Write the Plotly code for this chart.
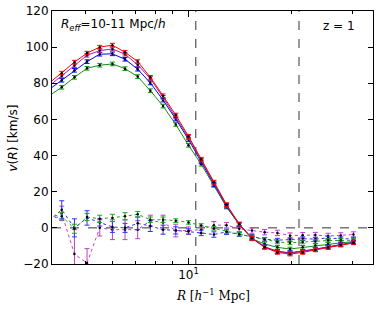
import plotly.graph_objects as go

R = [3.92, 4.27, 4.65, 5.06, 5.51, 6.00, 6.53, 7.11, 7.74, 8.43, 9.18, 10.0, 10.89,
     11.86, 12.91, 14.06, 15.31, 16.67, 18.16, 19.77, 21.53, 23.44, 25.53, 27.80, 30.27]

red_v = [80, 85.6, 91.7, 96.7, 100, 101.1, 97.2, 92, 83.3, 73.1, 62.4, 50.7, 38, 25.3,
         12.9, 2.2, -5.8, -10.8, -13.6, -14.5, -13.6, -12.2, -10.9, -9.5, -8.3]
purple_v = [78.5, 84, 89.8, 95.5, 98.1, 99, 96.1, 90.2, 82.6, 72.2, 61.4, 50, 37.4, 24.8,
            12.5, 2, -5.6, -10.6, -13.2, -14, -13.2, -12, -10.8, -9.4, -8.2]
blue_v = [76.5, 81.7, 87.2, 92, 96.1, 96.3, 93.3, 87.8, 80.2, 70.7, 60.2, 48.9, 36.5, 24,
          12, 1.8, -5.6, -10.5, -13, -13.8, -13, -11.8, -10.5, -9.2, -8]
green_v = [73, 77.8, 83.3, 88.3, 90, 90.7, 88.1, 83.7, 75.9, 67.4, 57.2, 45.7, 35.2, 23.5,
           11.5, 1.8, -6.1, -8.9, -10.8, -11.7, -10.8, -9.8, -8.9, -8.3, -7.6]

mag_d = [5, 8, -14.5, -19.5, 0, -1, -1, -1, 4, 3, -1.5, -1.5, -1, 1.5, 1.5, -0.5, -1.5,
         -2.4, -2.8, -4.3, -4.1, -4, -4.5, -4.2, -3.7]
blue_d = [4, 10, 0, 5.5, 3, 0.5, 0, 2.5, 1, -1, -1.4, -2, -2.8, -3.7, -2.2, -3.7, -4.7,
          -6.3, -6.8, -6.5, -6, -6.2, -5.6, -6, -6.1]
green_d = [5, 6.4, -0.5, 6, 5, 5.5, 6.4, 7.5, 4.5, 4.5, 4, 3, 1.3, -0.3, -2.2, -3.5, -5,
           -6.5, -7.8, -8.3, -7.8, -7.6, -7, -7, -6.8]

mag_e = [4, 4, 13.5, 8, 4.5, 5.5, 5.5, 5, 3, 4, 3.5, 2, 2, 2, 1.5, 1.5, 1.5, 1.5, 1.5,
         1.5, 1.5, 1.5, 1.5, 1.5, 1.5]
blue_e = [3, 5, 5, 4, 2, 3, 2.5, 3.5, 3, 2.5, 2, 1.5, 1.5, 1.5, 1.5, 1, 1, 1, 1, 1, 1,
          1, 1, 1, 1]
green_e = [2, 2, 2.5, 2, 2, 2, 2, 1.5, 1.5, 1.5, 1, 1, 1, 1, 1, 1, 1, 1, 1, 1, 1, 1, 1,
           1, 1]
solid_e = 1.0

vlines = [10.5, 21.0]

fig = go.Figure()

def add(y, color, dash, err):
    arr = err if isinstance(err, list) else [err] * len(y)
    fig.add_trace(go.Scatter(
        x=R, y=y, mode="lines+markers",
        line=dict(color=color, width=1, dash=dash),
        marker=dict(color="black", size=2.5),
        error_y=dict(type="data", array=arr, color=color, thickness=1, width=2.5),
        showlegend=False))

add(mag_d, "#bf3fbf", "dot", mag_e)
add(blue_d, "#3030ff", "dot", blue_e)
add(green_d, "#20a020", "dot", green_e)
add(green_v, "#109010", "solid", solid_e)
add(blue_v, "#0000ff", "solid", solid_e)
add(purple_v, "#a020a0", "solid", solid_e)
add(red_v, "#ff0000", "solid", solid_e)

shapes = []
for xv in vlines:
    shapes.append(dict(type="line", xref="x", yref="paper", x0=xv, x1=xv, y0=0, y1=1,
                       line=dict(color="#555555", width=1.2, dash="dash"), layer="below"))
shapes.append(dict(type="line", xref="paper", yref="y", x0=0, x1=1, y0=0, y1=0,
                   line=dict(color="#333333", width=1, dash="dash"), layer="below"))

axis_common = dict(showline=True, linecolor="black", linewidth=1, mirror="allticks",
                   ticks="inside", tickcolor="black", showgrid=False, zeroline=False,
                   automargin=False,
                   tickfont=dict(family="DejaVu Sans", size=12, color="black"))

fig.update_layout(
    width=380, height=310,
    margin=dict(l=52, r=7, t=11, b=46, autoexpand=False),
    paper_bgcolor="white", plot_bgcolor="white",
    shapes=shapes,
    xaxis=dict(type="log", range=[0.602, 1.538], tickmode="array", tickvals=[10],
               ticktext=["10<sup>1</sup>"], ticklen=6,
               minor=dict(tickmode="array", tickvals=[4, 5, 6, 7, 8, 9, 20, 30],
                          ticks="inside", ticklen=3, tickcolor="black"),
               **axis_common),
    yaxis=dict(range=[-20, 120], tickmode="array",
               tickvals=[-20, 0, 20, 40, 60, 80, 100, 120],
               ticktext=["−20", "0", "20", "40", "60", "80", "100", "120"], ticklen=5,
               **axis_common),
    annotations=[
        dict(x=0.022, y=0.985, xref="paper", yref="paper", xanchor="left", yanchor="top",
             showarrow=False,
             text="<i>R</i><sub><i>eff</i></sub>=10-11 Mpc/<i>h</i>",
             font=dict(family="DejaVu Sans", size=12, color="black")),
        dict(x=0.95, y=0.975, xref="paper", yref="paper", xanchor="right", yanchor="top",
             showarrow=False, text="z = 1",
             font=dict(family="DejaVu Sans", size=12, color="black")),
        dict(x=-0.1215, y=0.5, xref="paper", yref="paper", xanchor="center",
             yanchor="middle", textangle=-90, showarrow=False,
             text="<i>v</i>(<i>R</i>) [km/s]",
             font=dict(family="DejaVu Sans", size=12, color="black")),
        dict(x=0.5, y=-0.122, xref="paper", yref="paper", xanchor="center",
             yanchor="middle", showarrow=False,
             text="<i>R</i> [<i>h</i><sup>−1</sup> Mpc]",
             font=dict(family="DejaVu Serif", size=12, color="black")),
    ],
)

fig.write_html("out.html", post_script="document.body.style.margin='0';",
               config={"displayModeBar": False})
